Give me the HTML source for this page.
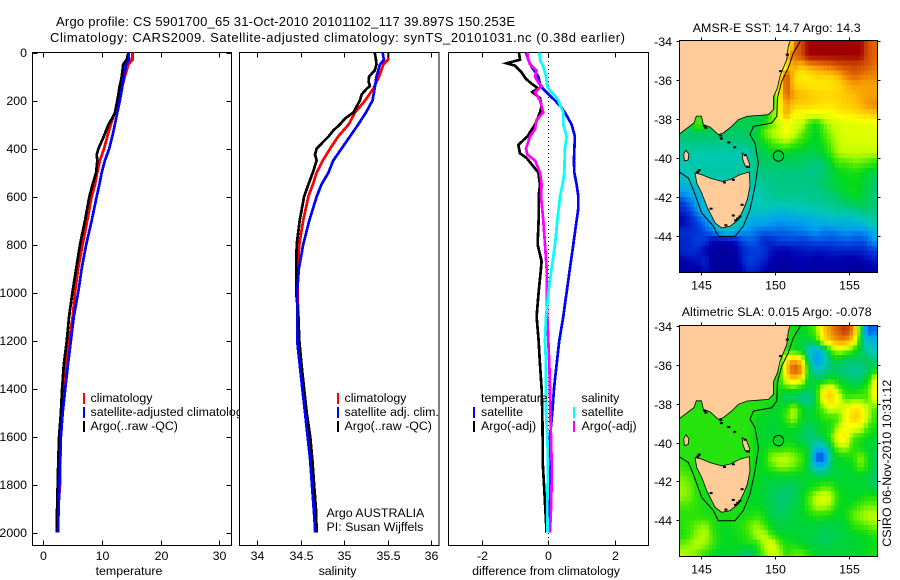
<!DOCTYPE html>
<html>
<head>
<meta charset="utf-8">
<title>Argo profile</title>
<style>
html,body{margin:0;padding:0;background:#fff;width:900px;height:580px;overflow:hidden}
svg{display:block}
text{font-family:"Liberation Sans",sans-serif;font-size:12.4px;fill:#000}
</style>
</head>
<body>
<svg id="figure" xmlns="http://www.w3.org/2000/svg" width="900" height="580" viewBox="0 0 900 580">
  <defs>
    <clipPath id="clip-sst"><rect x="679.5" y="41" width="198" height="231.5"/></clipPath>
    <clipPath id="clip-sla"><rect x="679.5" y="326" width="198" height="230.5"/></clipPath>
  </defs>
  <rect width="900" height="580" fill="#fff"/>
  <text x="56" y="26" style="font-size:13px" textLength="459" lengthAdjust="spacing">Argo profile: CS 5901700_65 31-Oct-2010 20101102_117 39.897S 150.253E</text>
  <text x="50" y="42" style="font-size:13px" textLength="575" lengthAdjust="spacing">Climatology: CARS2009. Satellite-adjusted climatology: synTS_20101031.nc (0.38d earlier)</text>

  <g id="panel-temp">
    <rect x="32.5" y="52.5" width="199" height="493" fill="#fff" stroke="#000"/>
    <g id="marks-temp" shape-rendering="crispEdges"></g>
    <g id="ticks-temp"></g>
    <text x="129" y="575" text-anchor="middle">temperature</text>
    <g>
      <rect x="83" y="393" width="2" height="11" fill="#f00"/>
      <rect x="83" y="407" width="2" height="11" fill="#00f"/>
      <rect x="83" y="421" width="2" height="11" fill="#000"/>
      <text x="90.5" y="402">climatology</text>
      <text x="90.5" y="416">satellite-adjusted climatology</text>
      <text x="90.5" y="430">Argo(..raw -QC)</text>
    </g>
  </g>

  <g id="panel-sal">
    <rect x="239.5" y="52.5" width="199.5" height="493" fill="#fff" stroke="#000"/>
    <g id="marks-sal" shape-rendering="crispEdges"></g>
    <g id="ticks-sal"></g>
    <text x="337.5" y="575" text-anchor="middle">salinity</text>
    <g>
      <rect x="337" y="393" width="2" height="11" fill="#f00"/>
      <rect x="337" y="407" width="2" height="11" fill="#00f"/>
      <rect x="337" y="421" width="2" height="11" fill="#000"/>
      <text x="344.5" y="402">climatology</text>
      <text x="344.5" y="416">satellite adj. clim.</text>
      <text x="344.5" y="430">Argo(..raw -QC)</text>
    </g>
    <text x="326.5" y="517">Argo AUSTRALIA</text>
    <text x="326.5" y="531">PI: Susan Wijffels</text>
  </g>

  <g id="panel-diff">
    <rect x="448.5" y="52.5" width="200" height="493" fill="#fff" stroke="#000"/>
    <g id="marks-diff" shape-rendering="crispEdges"></g>
    <g id="ticks-diff"></g>
    <text x="546" y="575" text-anchor="middle">difference from climatology</text>
    <g>
      <text x="481" y="402">temperature</text>
      <rect x="473" y="407" width="2" height="11" fill="#00f"/>
      <rect x="473" y="421" width="2" height="11" fill="#000"/>
      <text x="481" y="416">satellite</text>
      <text x="481" y="430">Argo(-adj)</text>
      <text x="581.5" y="402">salinity</text>
      <rect x="573" y="407" width="2" height="11" fill="#0ff"/>
      <rect x="573" y="421" width="2" height="11" fill="#f0f"/>
      <text x="581.5" y="416">satellite</text>
      <text x="581.5" y="430">Argo(-adj)</text>
    </g>
  </g>

  <g id="map-sst"></g>
  <g id="map-sla"></g>
  <text x="692.7" y="32" textLength="168" lengthAdjust="spacing">AMSR-E SST: 14.7 Argo: 14.3</text>
  <text x="681.7" y="316" textLength="190" lengthAdjust="spacing">Altimetric SLA: 0.015 Argo: -0.078</text>
  <text transform="translate(891,546.7) rotate(-90)" textLength="167" lengthAdjust="spacing">CSIRO 06-Nov-2010 10:31:12</text>
</svg>

<script>
/* ---------- profile data ---------- */
const depthTicks = [0,200,400,600,800,1000,1200,1400,1600,1800,2000];
const tempTicks = [0,10,20,30];
const salTicks = [34,34.5,35,35.5,36];
const diffTicks = [-2,0,2];

const stdDepths = [0,30,50,100,150,200,250,300,350,400,450,500,550,600,700,800,900,1000,1100,1200,1300,1400,1500,1600,1700,1800,1900,2000];
const climTemp = [15.2,15.2,14.5,13.9,13.35,12.8,12.2,11.5,10.9,10.35,9.65,9.2,8.8,8.25,7.5,6.7,5.95,5.4,5,4.4,3.9,3.5,3.2,3,2.9,2.85,2.55,2.4];
const satTemp = [14.55,14.6,14.1,13.75,13.4,13.05,12.6,12.2,11.75,11.25,10.5,9.95,9.55,9.1,8.25,7.3,6.55,5.95,5.2,4.7,4.2,3.75,3.3,3,2.85,2.75,2.6,2.5];
const climSal = [35.505,35.505,35.45,35.4,35.335,35.24,35.125,35.05,34.93,34.84,34.755,34.685,34.64,34.59,34.53,34.485,34.465,34.465,34.475,34.48,34.505,34.535,34.56,34.59,34.615,34.64,34.655,34.665];
const satSal = [35.44,35.455,35.41,35.37,35.35,35.325,35.25,35.16,35.065,34.97,34.875,34.82,34.74,34.685,34.6,34.53,34.48,34.46,34.46,34.46,34.49,34.52,34.55,34.58,34.61,34.63,34.65,34.67];

const argoDepths = [0,30,50,75,100,120,140,150,175,200,250,275,300,325,350,400,425,450,500,550,600,700,800,900,1000,1100,1200,1300,1400,1500,1600,1700,1800,1900,2000];
const argoTemp = [14.5,14.2,13.6,13.5,13.35,13.2,13,12.95,12.8,12.6,12.2,11.7,11.1,10.7,10.3,9.4,9.1,9.2,9,8.4,7.85,7.1,6.25,5.6,4.95,4.4,4,3.5,3.2,3,2.7,2.55,2.45,2.35,2.3];
const argoSal = [35.35,35.365,35.37,35.35,35.285,35.28,35.295,35.26,35.2,35.18,35.105,35.01,34.95,34.875,34.82,34.685,34.665,34.685,34.64,34.59,34.54,34.49,34.455,34.45,34.45,34.475,34.485,34.51,34.54,34.57,34.61,34.635,34.655,34.675,34.685];

const diffTempSatDepths = [0,30,60,100,140,160,180,200,225,250,300,350,450,500,550,600,650,700,800,900,1000,1050,1100,1200,1300,1400,1500,1600,1700,1800,1900,2000];
const diffTempSat = [-.67,-.6,-.5,-.3,-.23,-.1,.05,.2,.37,.5,.7,.8,.77,.78,.85,.9,.9,.85,.75,.65,.55,.5,.45,.33,.25,.17,.12,.05,.05,.03,.01,.01];
const diffSalSatDepths = [0,30,60,100,140,160,180,200,225,250,300,350,400,500,550,600,700,800,900,1000,1050,1100,1200,1300,1400,1500,1600,1700,1800,1900,2000];
const diffSalSat = [-.27,-.25,-.15,-.07,-.03,.05,.2,.3,.37,.45,.45,.55,.5,.48,.43,.35,.27,.2,.1,0,-.03,-.07,-.1,-.07,-.07,-.07,-.03,-.01,-.02,-.03,-.02];
const diffTempArgoDepths = [0,30,45,55,80,110,130,150,165,190,225,250,300,350,385,420,440,500,550,600,700,800,870,900,1000,1100,1200,1300,1400,1500,1600,1700,1800,1900,2000];
const diffTempArgo = [-.88,-.85,-1.25,-1,-.82,-.67,-.5,-.3,-.48,-.25,-.2,-.25,-.4,-.63,-.9,-.85,-.65,-.3,-.25,-.29,-.29,-.32,-.2,-.22,-.29,-.35,-.29,-.25,-.2,-.18,-.17,-.17,-.13,-.09,-.05];
const diffSalArgoDepths = [0,30,50,75,100,125,140,165,200,250,280,320,350,400,425,450,500,550,600,700,800,900,1000,1100,1200,1300,1400,1500,1600,1700,1800,1900,2000];
const diffSalArgo = [-.63,-.6,-.55,-.35,-.4,-.3,-.2,-.4,-.25,-.15,-.35,-.4,-.55,-.67,-.63,-.4,-.25,-.2,-.22,-.15,-.1,-.05,-.05,-.03,0,.03,.05,.06,.08,.1,.1,.08,.05];

/* ---------- map data ---------- */
const lonTicks = [145,150,155];
const latTicks = [-34,-36,-38,-40,-42,-44];
const gridLonStart = 143.55;
const gridLatStart = -34;
const gridStep = 0.5;

/* sea surface temperature, degrees C, north to south */
const sstGrid = [
[15,15,15,15,15,15,15,15,15,15,15,15,15,15,15,18.5,19,20,20,20,20,20,20,20,20,19,18.6],
[15,15,15,15,15,15,15,15,15,15,15,15,15,15,18,18.5,19,20,20,20,20,20,20,20,20,19,18.6],
[15,15,15,15,15,15,15,15,15,15,15,15,15,15,17,18,17.6,18,18.2,18.4,18.6,18.9,19,19.1,19,18.8,18.5],
[15,15,15,15,15,15,15,15,15,15,15,15,15,17,19,17.5,17.2,17.2,17.5,17.5,17.5,17.8,18.3,18.7,18.5,18.3,18.3],
[15,15,15,15,15,15,15,15,15,15,15,15,15,17,19,17.5,17.3,17.3,17.2,17.2,17.3,17.4,17.7,18,18,18,18],
[15,15,15,15,15,15,15,15,15,15,15,15,15,17,18.8,18,17.7,17.6,17.5,17.4,17.4,17.5,17.6,17.7,17.9,18,18],
[15,15,15,15,15,15,15,15,15,15,15,15,15,17,18,17.6,17.5,17.5,17.4,17.3,17.3,17.4,17.5,17.6,17.8,18.1,18.3],
[15,15,16,15,15,15,15,15,15,15,15,15,16,17,18,17,16.9,16.9,16.8,16.9,17,17.1,17.2,17.2,17.4,17.4,17.6],
[15,15,16,15.5,15,15,15,15,15,15,15,15.5,16,16.5,17,16.6,16.5,15.7,15.3,16,16.4,16.6,16.7,16.7,16.7,16.8,16.8],
[14.8,14.8,14.8,14.8,14.8,14.8,14.8,14.8,14.8,14.8,15.2,16,16.3,16.6,17,16.6,16,15.6,15.2,15.8,16.2,16.5,16.7,16.7,16.7,16.7,16.7],
[14.5,14.5,14.5,14.5,14.5,14.5,14.5,14.5,14.5,14.7,15,15.3,15.8,16,16.2,15.8,15.6,15.3,15.2,15.5,16,16.4,16.6,16.6,16.6,16.6,16.6],
[14.1,14.1,14.1,14.1,14.1,14.1,14.1,14.1,14.1,14.1,14.7,15,15.1,15.2,15.2,15.1,15,15,15,15.2,15.8,16.3,16.4,16.4,16.4,16.4,16.4],
[14.1,14.1,14.1,14.1,14.1,14.1,14.1,14.1,14.1,14.1,14.7,14.8,14.8,14.8,14.8,14.9,14.8,14.7,14.5,14.8,15.2,15.8,15.8,16,16,15.8,15.6],
[13.8,14.2,14.2,14.2,14.2,14.2,14.2,14.2,14.2,14.2,14.5,14.6,14.6,14.6,14.6,14.6,14.6,14.5,14.5,14.7,15,15.3,15.4,15.5,15.4,15.2,15],
[13.6,13.8,14,14,14,14,14,14,14,14,14.3,14.4,14.4,14.5,14.5,14.5,14.5,14.5,14.6,14.8,15,15.2,15.3,15.3,15.3,15,14.7],
[13,13.3,13.5,14,14,14,14,14,14,14,14,14.2,14.4,14.5,14.5,14.5,14.4,14.4,14.5,14.6,14.8,15,15.2,15.5,15.2,14.9,14.6],
[12,12.6,13.2,13.7,14,14,14,14,14,14,14,14.1,14.2,14.2,14.2,14.2,14.3,14.3,14.3,14.4,14.5,14.6,14.8,15,15.1,14.9,14.6],
[11.5,12,12.8,13.5,14,14,14,14,14,13.8,13.8,13.9,13.7,13.6,13.6,13.7,13.8,13.8,13.9,14,14.2,14.3,14.3,14.3,14.5,14.6,14.5],
[11,11.5,12,12.8,13.3,14,14,14,14,13.2,13.2,13.2,13,12.9,13,13,13,13.2,13.3,13.4,13.5,13.5,13.5,13.5,13.7,14,14.2],
[11.7,11.7,11.8,12.2,12.7,13.5,13.8,13.5,13,12.8,12.5,12.4,12.5,12.4,12.4,12.6,12.6,12.8,12.9,12.6,12.6,12.8,12.9,12.8,12.8,13,13.5],
[11.5,11.7,12,11.8,11,10.9,11,11.2,12,12.3,12.2,11.5,11.6,12,12,12,11.9,12,12.2,12.2,12.1,12.2,12.3,12.2,12.1,12.4,13],
[11.6,11.7,11.6,11,10.8,10.6,10.6,10.6,11.5,11.8,12,11.8,11.3,11,11,11.2,11.3,11.4,11.3,11.3,11.5,11.5,11.5,11.5,11.5,11.8,12],
[11,11.2,11.3,11.6,10.6,10.6,10.6,10.6,11.5,12,11.8,11.5,11,10.7,10.7,11,11,11,10.8,11,11,11,10.8,10.8,11,11.2,11.4],
[10.7,10.8,10.7,11.3,10.6,10.5,10.5,10.5,11,11.6,11.4,11,10.8,10.6,10.6,10.7,10.8,10.8,10.7,10.8,10.7,10.7,10.6,10.6,10.6,10.7,10.8]
];

/* sea level anomaly, cm, north to south */
const slaGrid = [
[5,5,5,5,5,5,5,5,5,5,5,5,5,5,5,5,2,5,10,25,32,38,44,32,5,-28,-25],
[5,5,5,5,5,5,5,5,5,5,5,5,5,5,5,5,0,2,5,22,28,32,32,24,2,-15,-15],
[5,5,5,5,5,5,5,5,5,5,5,5,5,5,6,4,2,-12,-20,-10,8,14,12,6,0,-8,-12],
[5,5,5,5,5,5,5,5,5,5,5,5,5,6,22,30,22,-5,-22,-15,0,2,-2,-2,-1,0,-5],
[5,5,5,5,5,5,5,5,5,5,5,5,5,5,26,40,34,2,-12,-8,-2,-4,-5,-7,-7,-3,3],
[5,5,5,5,5,5,5,5,5,5,5,5,5,5,20,26,20,1,0,0,4,2,0,-3,-2,3,18],
[5,5,5,5,5,5,5,5,5,5,5,5,5,5,4,6,2,0,3,20,24,10,4,2,4,8,22],
[5,5,5,5,5,5,5,5,5,5,5,5,6,2,-4,-2,-6,-8,2,22,26,20,8,10,10,8,20],
[6,6,6,6,6,6,6,6,6,6,6,5,2,3,6,14,4,0,4,10,18,14,18,22,22,14,8],
[6,6,6,6,6,6,6,6,6,6,3,2,2,3,8,14,3,1,3,6,6,8,18,26,24,14,6],
[6,6,6,6,6,6,6,6,6,6,3,2,1,2,3,4,0,-2,0,3,5,14,20,18,16,8,4],
[6,6,6,6,6,6,6,6,6,6,3,2,2,3,3,2,-1,-4,-2,2,8,22,22,8,6,3,2],
[6,6,6,6,6,6,6,6,6,6,3,3,5,4,6,5,3,0,-15,-15,2,12,14,6,4,2,0],
[6,6,6,6,6,6,6,6,6,6,3,4,12,14,14,12,8,2,-28,-30,-3,3,4,6,12,5,-2],
[7,5,6,6,6,6,6,6,6,6,3,4,8,12,12,10,6,0,-15,-15,0,2,2,4,10,5,-2],
[10,8,5,5,5,5,5,5,5,5,3,2,2,2,2,2,2,2,1,0,1,1,2,2,2,1,-3],
[12,10,6,4,5,5,5,5,5,2,3,1,0,-1,-2,-1,1,3,5,8,8,3,2,2,2,2,-3],
[12,10,6,4,5,5,5,5,5,3,3,1,-1,-3,-3,-2,2,8,14,18,14,5,3,2,3,5,4],
[8,8,6,5,5,5,5,5,5,3,3,2,-1,-3,-2,0,2,8,14,14,12,4,3,5,8,10,10],
[6,6,6,5,5,5,5,5,4,5,7,4,0,-1,0,1,2,4,6,6,4,2,4,10,12,14,14],
[6,8,10,12,6,4,3,5,6,10,12,8,2,0,1,1,1,1,1,0,0,1,2,6,8,10,12],
[5,8,12,14,8,4,3,4,5,8,14,14,8,3,2,2,1,1,0,-1,-1,0,1,2,3,4,6],
[10,12,14,12,8,4,3,3,4,5,6,14,18,10,4,5,2,1,0,-1,0,1,1,1,2,3,4],
[14,12,10,6,3,2,2,3,-3,-5,3,10,16,14,6,10,10,6,3,2,2,2,2,2,3,4,5]
];

/* geography, [lon, lat] */
const mainlandCoast = [[151.08,-33.9],[150.92,-34.27],[150.81,-34.96],[150.63,-35.3],[150.36,-35.81],[150.18,-36.41],[149.91,-36.87],[149.91,-37.52],[149.57,-37.78],[148.15,-37.86],[147.55,-38.03],[147.09,-38.38],[146.53,-38.72],[146.19,-38.8],[145.63,-38.41],[145.18,-38.29],[145.05,-37.85],[144.7,-37.85],[144.55,-38.2],[143.5,-38.8],[143.5,-33.9]];
const tasmaniaCoast = [[144.62,-40.77],[145.07,-40.85],[145.63,-41.03],[146.42,-41.2],[146.98,-41.11],[147.66,-40.85],[148.29,-40.72],[148.33,-41.45],[148.15,-42.14],[147.88,-42.65],[147.55,-43.16],[146.98,-43.5],[146.42,-43.59],[145.97,-43.33],[145.41,-42.48],[145.07,-41.79],[144.73,-41.28]];
const kingIslandCoast = [[144,-39.6],[144.2,-39.8],[144.15,-40.1],[143.9,-40.15],[143.85,-39.8]];
const flindersCoast = [[147.8,-39.75],[148.1,-39.9],[148.3,-40.3],[148.3,-40.5],[148,-40.4],[147.85,-40.1]];
const shelfContour = [[151.76,-33.97],[151.26,-34.62],[150.92,-35.38],[150.47,-36.07],[150.18,-36.92],[150.14,-37.86],[149.8,-38.21],[148.56,-38.38],[148.33,-38.8],[148.67,-39.23],[148.9,-40.26],[148.67,-41.45],[148.33,-42.65],[147.88,-43.5],[147.32,-44.02],[146.19,-44.02],[145.86,-43.5],[145.07,-42.82],[144.5,-41.62],[144.17,-41.03],[143.6,-40.74]];
const coastSpecks = [[145.25,-38.35],[145.35,-38.45],[146.35,-38.85],[146.4,-39],[147.3,-39.45],[146.9,-39.2],[144.9,-40.62],[144.8,-40.72],[147.65,-43],[147.5,-43.1],[147.35,-43.2],[147.2,-42.95],[147.8,-42.4],[145.7,-42.6],[146.7,-43.45],[146.6,-41.25],[147.2,-41.12],[148,-39.85],[148.15,-40.45],[150.4,-35.55],[150.85,-34.7]];
const profileLon = 150.253;
const profileLat = -39.897;

/* ---------- axes ---------- */
const yDepth = d => 52.5 + 0.24 * d;
const xTemp = v => 43.3 + 5.87 * v;
const xSal = v => 257 + 87.2 * (v - 34);
const xDiff = v => 548.3 + 33.3 * v;
const xLon = lon => 700.7 + 14.8 * (lon - 145);
const ySstLat = lat => 41 + 19.5 * (-34 - lat);
const ySlaLat = lat => 326 + 19.43 * (-34 - lat);
const sstToUnit = v => (v - 10) / 10;
const slaToUnit = v => (v + 50) / 100;

const NS = 'http://www.w3.org/2000/svg';
function make(tag, parent) {
  const el = document.createElementNS(NS, tag);
  parent.appendChild(el);
  return el;
}
function tickLine(parent, x1, y1, x2, y2) {
  const el = make('line', parent);
  
  
  el.setAttribute('x1', x1);
  el.setAttribute('y1', y1);
  el.setAttribute('x2', x2);
  el.setAttribute('y2', y2);
  el.setAttribute('stroke', '#000');
  el.setAttribute('shape-rendering', 'crispEdges');
}
function tickText(parent, x, y, anchor, str) {
  const el = make('text', parent);
  
  
  el.setAttribute('x', x);
  el.setAttribute('y', y);
  el.setAttribute('text-anchor', anchor);
  el.textContent = str;
}
function profile(parent, xFn, depths, values, color, name) {
  const el = make('polyline', parent);
  
  
  el.setAttribute('points', values.map((v, i) => xFn(v).toFixed(1) + ',' + yDepth(depths[i]).toFixed(1)).join(' '));
  el.setAttribute('fill', 'none');
  el.setAttribute('stroke', color);
  el.setAttribute('stroke-width', '2.7');
}
function profileAxes(groupId, xFn, xTicks, left, right, withDepthLabels) {
  const g = document.getElementById(groupId);
  xTicks.forEach(t => {
    const x = Math.round(xFn(t)) + 0.5;
    tickLine(g, x, 52.5, x, 57.5);
    tickLine(g, x, 545.5, x, 540.5);
    tickText(g, x, 560, 'middle', String(t));
  });
  if (withDepthLabels) {
    depthTicks.forEach(d => {
      const y = Math.round(yDepth(d)) + 0.5;
      tickLine(g, left, y, left + 5, y);
      tickLine(g, right, y, right - 5, y);
      tickText(g, 27, y + 3.5, 'end', String(d));
    });
  }
}

/* ---------- profile panels ---------- */
const marksTemp = document.getElementById('marks-temp');
profile(marksTemp, xTemp, stdDepths, climTemp, '#f00', 'climatology-temperature-line');
profile(marksTemp, xTemp, argoDepths, argoTemp, '#000', 'argo-temperature-line');
profile(marksTemp, xTemp, stdDepths, satTemp, '#00f', 'satellite-temperature-line');

const marksSal = document.getElementById('marks-sal');
profile(marksSal, xSal, stdDepths, climSal, '#f00', 'climatology-salinity-line');
profile(marksSal, xSal, argoDepths, argoSal, '#000', 'argo-salinity-line');
profile(marksSal, xSal, stdDepths, satSal, '#00f', 'satellite-salinity-line');

const marksDiff = document.getElementById('marks-diff');
const zeroLine = make('line', marksDiff);


zeroLine.setAttribute('x1', xDiff(0));
zeroLine.setAttribute('x2', xDiff(0));
zeroLine.setAttribute('y1', 53);
zeroLine.setAttribute('y2', 545);
zeroLine.setAttribute('stroke', '#000');
zeroLine.setAttribute('stroke-dasharray', '1 3');
profile(marksDiff, xDiff, diffTempArgoDepths, diffTempArgo, '#000', 'argo-temperature-difference-line');
profile(marksDiff, xDiff, diffTempSatDepths, diffTempSat, '#00f', 'satellite-temperature-difference-line');
profile(marksDiff, xDiff, diffSalArgoDepths, diffSalArgo, '#f0f', 'argo-salinity-difference-line');
profile(marksDiff, xDiff, diffSalSatDepths, diffSalSat, '#0ff', 'satellite-salinity-difference-line');

profileAxes('ticks-temp', xTemp, tempTicks, 32.5, 231.5, true);
profileAxes('ticks-sal', xSal, salTicks, 239.5, 439, false);
profileAxes('ticks-diff', xDiff, diffTicks, 448.5, 648.5, false);

/* ---------- maps ---------- */
const colorStops = [
  [0,[0,0,128]],[.1,[0,0,176]],[.2,[0,64,224]],[.3,[0,160,240]],[.4,[0,200,184]],[.47,[0,200,112]],
  [.53,[0,216,32]],[.58,[64,232,0]],[.64,[192,255,0]],[.7,[255,255,0]],[.75,[255,208,0]],[.8,[248,160,0]],
  [.86,[224,104,0]],[.92,[200,64,0]],[1,[160,0,0]]
];
function colorFor(u) {
  const t = Math.max(0, Math.min(1, u));
  for (let i = 1; i < colorStops.length; i++) {
    if (t <= colorStops[i][0]) {
      const a = colorStops[i - 1], b = colorStops[i];
      const f = (t - a[0]) / (b[0] - a[0]);
      const c = a[1].map((v, k) => Math.round(v + (b[1][k] - v) * f));
      return 'rgb(' + c.join(',') + ')';
    }
  }
  return 'rgb(160,0,0)';
}
function poly(parent, tag, coords, yFn) {
  const el = make(tag, parent);
  el.setAttribute('points', coords.map(p => xLon(p[0]).toFixed(1) + ',' + yFn(p[1]).toFixed(1)).join(' '));
  return el;
}
/* shading: each grid cell is painted as 2x2 sub-cells, blended between neighbouring cell centres */
function shade(grid, r, c) {
  const rows = grid.length, cols = grid[0].length;
  const r0 = Math.max(0, Math.floor(r)), r1 = Math.min(rows - 1, Math.floor(r) + 1);
  const c0 = Math.max(0, Math.floor(c)), c1 = Math.min(cols - 1, Math.floor(c) + 1);
  const fr = r - Math.floor(r), fc = c - Math.floor(c);
  const top = grid[r0][c0] * (1 - fc) + grid[r0][c1] * fc;
  const bottom = grid[r1][c0] * (1 - fc) + grid[r1][c1] * fc;
  return top * (1 - fr) + bottom * fr;
}
function drawMap(groupId, clipId, grid, toUnit, yFn, cellName, top, bottom, labelY) {
  const g = document.getElementById(groupId);
  const inner = make('g', g);
  
  
  inner.setAttribute('clip-path', 'url(#' + clipId + ')');
  const sub = gridStep / 2;
  for (let r = 0; r < grid.length * 2; r++) {
    for (let c = 0; c < grid[0].length * 2; c++) {
      const lon = gridLonStart + c * sub;
      const lat = gridLatStart - r * sub;
      const v = shade(grid, (r - 0.5) / 2, (c - 0.5) / 2);
      const cell = make('rect', inner);
      
      
      cell.setAttribute('x', xLon(lon).toFixed(2));
      cell.setAttribute('y', yFn(lat).toFixed(2));
      cell.setAttribute('width', (xLon(lon + sub) - xLon(lon) + 0.3).toFixed(2));
      cell.setAttribute('height', (yFn(lat - sub) - yFn(lat) + 0.3).toFixed(2));
      cell.setAttribute('fill', colorFor(toUnit(v)));
      cell.setAttribute('shape-rendering', 'crispEdges');
    }
  }
  const mainland = poly(inner, 'polygon', mainlandCoast, yFn);
  
  
  const tas = poly(inner, 'polygon', tasmaniaCoast, yFn);
  
  
  const king = poly(inner, 'polygon', kingIslandCoast, yFn);
  
  
  const flinders = poly(inner, 'polygon', flindersCoast, yFn);
  
  
  [mainland, tas, king, flinders].forEach(el => {
    el.setAttribute('fill', '#ffcc99');
    el.setAttribute('stroke', '#000');
    el.setAttribute('stroke-width', '0.8');
  });
  coastSpecks.forEach(p => {
    const s = make('rect', inner);
    
    
    s.setAttribute('x', (xLon(p[0]) - 1.5).toFixed(1));
    s.setAttribute('y', (yFn(p[1]) - 1).toFixed(1));
    s.setAttribute('width', 3);
    s.setAttribute('height', 2);
    s.setAttribute('fill', '#000');
  });
  const contour = poly(inner, 'polyline', shelfContour, yFn);
  
  
  contour.setAttribute('fill', 'none');
  contour.setAttribute('stroke', '#000');
  contour.setAttribute('stroke-width', '1');
  const marker = make('circle', inner);
  
  
  marker.setAttribute('cx', xLon(profileLon));
  marker.setAttribute('cy', yFn(profileLat));
  marker.setAttribute('r', 5.2);
  marker.setAttribute('fill', 'none');
  marker.setAttribute('stroke', '#000');
  const frame = make('rect', g);
  
  
  frame.setAttribute('x', 679.5);
  frame.setAttribute('y', top);
  frame.setAttribute('width', 198);
  frame.setAttribute('height', bottom - top);
  frame.setAttribute('fill', 'none');
  frame.setAttribute('stroke', '#000');
  frame.setAttribute('shape-rendering', 'crispEdges');
  lonTicks.forEach(t => {
    const x = Math.round(xLon(t)) + 0.5;
    tickLine(g, x, top, x, top - 3);
    tickLine(g, x, bottom, x, bottom + 3);
    tickText(g, x, labelY, 'middle', String(t));
  });
  latTicks.forEach(t => {
    const y = Math.round(yFn(t)) + 0.5;
    tickLine(g, 679.5, y, 676.5, y);
    tickLine(g, 877.5, y, 880.5, y);
    tickText(g, 672, y + 4.5, 'end', String(t));
  });
}
drawMap('map-sst', 'clip-sst', sstGrid, sstToUnit, ySstLat, 'sst-cell', 40.5, 272.5, 289.5);
drawMap('map-sla', 'clip-sla', slaGrid, slaToUnit, ySlaLat, 'sla-cell', 325.5, 556.5, 573.5);
</script>
</body>
</html>
